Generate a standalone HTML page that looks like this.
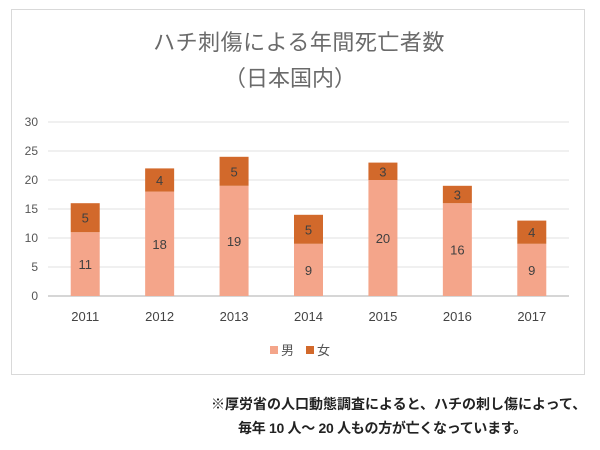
<!DOCTYPE html>
<html><head><meta charset="utf-8"><style>
body{margin:0;background:#fff;width:600px;height:450px;overflow:hidden;font-family:"Liberation Sans","Noto Sans CJK JP",sans-serif}
#frame{position:absolute;left:11px;top:9px;width:574px;height:366px;border:1px solid #d9d9d9;box-sizing:border-box}
.note{position:absolute;left:211px;font-size:14px;font-weight:bold;color:#222;white-space:nowrap}
</style></head><body>
<div id="frame"></div>
<svg id="chart" width="600" height="450" style="position:absolute;left:0;top:0">
<text x="299" y="50" text-anchor="middle" font-size="22" letter-spacing="0.5" fill="#6a6a6a" font-family="Liberation Sans,Noto Sans CJK JP,sans-serif">ハチ刺傷による年間死亡者数</text>
<text x="290" y="86" text-anchor="middle" font-size="22" fill="#6a6a6a" font-family="Liberation Sans,Noto Sans CJK JP,sans-serif">（日本国内）</text>
<g id="grid"></g><g id="bars"></g><g id="axes"></g>
<g>
<rect x="270" y="346" width="8" height="8" fill="#f4a58a"/>
<text x="281" y="355" font-size="13" fill="#555" font-family="Liberation Sans,Noto Sans CJK JP,sans-serif">男</text>
<rect x="306" y="346" width="8" height="8" fill="#d2692b"/>
<text x="317" y="355" font-size="13" fill="#555" font-family="Liberation Sans,Noto Sans CJK JP,sans-serif">女</text>
</g>
</svg>
<div class="note" style="top:394px">※厚労省の人口動態調査によると、ハチの刺し傷によって、</div>
<div class="note" style="top:418px;left:238px;letter-spacing:-0.3px">毎年 10 人～ 20 人もの方が亡くなっています。</div>
<script>
const years=["2011","2012","2013","2014","2015","2016","2017"];
const male=[11,18,19,9,20,16,9];
const female=[5,4,5,5,3,3,4];
const yTicks=[0,5,10,15,20,25,30];
const NS="http://www.w3.org/2000/svg";
const L=48,R=569,T=122,B=296,yMax=30;
const y=v=>B-(v/yMax)*(B-T);
const bw=(R-L)/years.length;
const x=i=>L+bw*(i+0.5);
const FONT="Liberation Sans,Noto Sans CJK JP,sans-serif";
function mk(tag,attrs,parent,text){const e=document.createElementNS(NS,tag);for(const k in attrs)e.setAttribute(k,attrs[k]);if(text!==undefined)e.textContent=text;document.getElementById(parent).appendChild(e);return e;}
yTicks.forEach(t=>{
 const l=mk('line',{x1:L,x2:R,y1:y(t),y2:y(t),stroke:t===0?'#c8c8c8':'#e0e0e0','stroke-width':t===0?1.5:1},'grid');
 
 
 const tx=mk('text',{x:38,y:y(t)+4,'text-anchor':'end','font-size':12,fill:'#555','font-family':FONT},'axes',String(t));
 
 
});
years.forEach((yr,i)=>{
 const cx=x(i),w=29;
 const m=mk('rect',{x:cx-w/2,y:y(male[i]),width:w,height:B-y(male[i]),fill:'#f4a58a'},'bars');
 
 
 const tot=male[i]+female[i];
 const f=mk('rect',{x:cx-w/2,y:y(tot),width:w,height:y(male[i])-y(tot),fill:'#d2692b'},'bars');
 
 
 const ml=mk('text',{x:cx,y:(y(male[i])+B)/2+5,'text-anchor':'middle','font-size':13,fill:'#404040','font-family':FONT},'bars',String(male[i]));
 
 
 const fl=mk('text',{x:cx,y:(y(male[i])+y(tot))/2+5,'text-anchor':'middle','font-size':13,fill:'#404040','font-family':FONT},'bars',String(female[i]));
 
 
 const xl=mk('text',{x:cx,y:321,'text-anchor':'middle','font-size':13,fill:'#444','font-family':FONT},'axes',yr);
 
 
});
</script>
</body></html>
